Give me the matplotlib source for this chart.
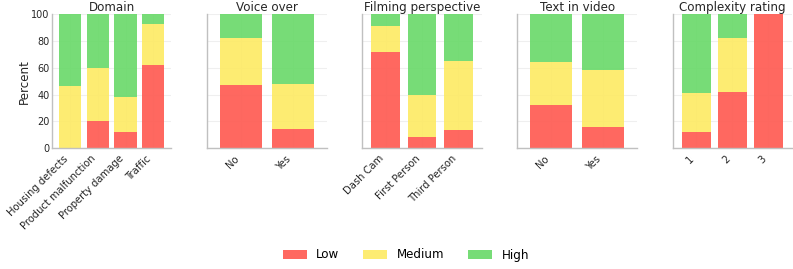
import matplotlib
matplotlib.use("Agg")
import matplotlib.pyplot as plt
import numpy as np
from matplotlib.patches import Patch

levels = ["Low", "Medium", "High"]

domain_cats = ["Housing defects", "Product malfunction", "Property damage", "Traffic"]
domain_low = [0, 20, 12, 62]
domain_med = [46, 40, 26, 31]

voice_cats = ["No", "Yes"]
voice_low = [47, 14.5]
voice_med = [35, 33.5]

film_cats = ["Dash Cam", "First Person", "Third Person"]
film_low = [71.5, 8, 13.5]
film_med = [20, 31.5, 51.5]

text_cats = ["No", "Yes"]
text_low = [32.5, 16]
text_med = [31.5, 42]

complex_cats = ["1", "2", "3"]
complex_low = [12, 42, 100]
complex_med = [29, 40, 0]

panels = [
    ("Domain", domain_cats, domain_low, domain_med),
    ("Voice over", voice_cats, voice_low, voice_med),
    ("Filming perspective", film_cats, film_low, film_med),
    ("Text in video", text_cats, text_low, text_med),
    ("Complexity rating", complex_cats, complex_low, complex_med),
]

colors = ["#FF584F", "#FDEA63", "#68D968"]
ALPHA = 0.9

fig = plt.figure(figsize=(7.93, 2.69), dpi=100)
fig.subplots_adjust(left=52/793, right=792/793, top=1-14.3/269, bottom=1-148/269, wspace=0.30)
axes = fig.subplots(1, 5, sharey=True)

for ax, (title, cats, low, med) in zip(axes, panels):
    n = len(cats)
    x = np.arange(n)
    low = np.array(low, dtype=float)
    med = np.array(med, dtype=float)
    high = 100 - low - med
    ax.set_axisbelow(True)
    ax.grid(True, color="#efefef", linewidth=0.8)
    ax.bar(x, low, width=0.8, color=colors[0], alpha=ALPHA, linewidth=0)
    ax.bar(x, med, width=0.8, bottom=low, color=colors[1], alpha=ALPHA, linewidth=0)
    ax.bar(x, high, width=0.8, bottom=low + med, color=colors[2], alpha=ALPHA, linewidth=0)
    ax.set_xlim(-0.65, n - 0.35)
    ax.set_ylim(0, 100)
    ax.set_xticks(x)
    ax.set_xticklabels(cats, rotation=45, ha="right", rotation_mode="default")
    ax.set_title(title, fontsize=8.6, color="#262626", pad=2)
    ax.tick_params(axis="x", length=0, labelsize=7.2, colors="#262626", pad=4)
    ax.tick_params(axis="y", length=0, labelsize=7.0, colors="#262626", pad=1.8)
    for s in ["top", "right"]:
        ax.spines[s].set_visible(False)
    for s in ["left", "bottom"]:
        ax.spines[s].set_color("#c0c0c0")
        ax.spines[s].set_linewidth(1.0)

axes[0].set_yticks([0, 20, 40, 60, 80, 100])
axes[0].set_ylabel("Percent", fontsize=8.6, color="#262626", labelpad=0.5)

handles = [Patch(facecolor=c, alpha=ALPHA, edgecolor="none") for c in colors]
fig.legend(handles, levels, loc="center", ncol=3, frameon=False, fontsize=8.6,
           bbox_to_anchor=(406/793, 1-255/269))

fig.savefig("out.png", dpi=100)
